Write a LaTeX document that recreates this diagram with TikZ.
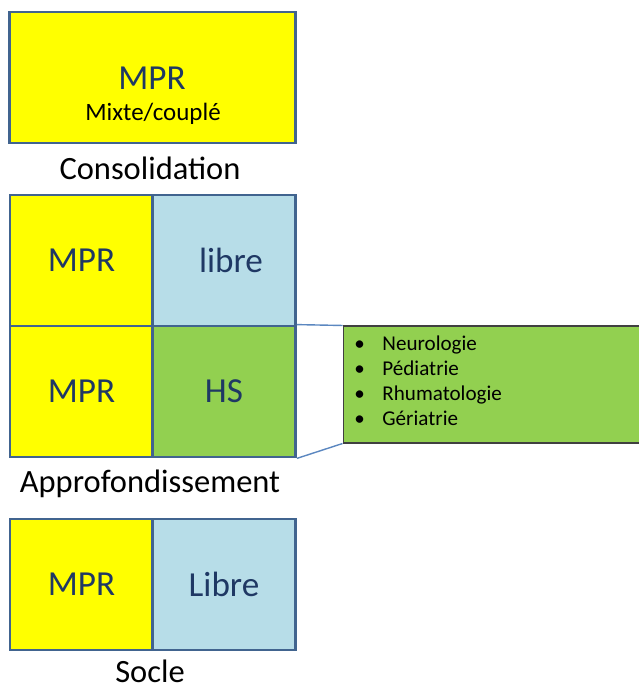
\documentclass[tikz,border=0pt]{standalone}
\usepackage{fontspec}
\setmainfont{Carlito}
\usetikzlibrary{positioning}
\definecolor{mprjaune}{HTML}{FFFF00}
\definecolor{librebleu}{HTML}{B7DDE8}
\definecolor{hsvert}{HTML}{92D050}
\definecolor{bord}{HTML}{41648F}
\definecolor{texte}{HTML}{1F3864}
\definecolor{trait}{HTML}{5B87C0}

\begin{document}
\begin{tikzpicture}[x=0.02cm,y=-0.02cm,
    cell/.style={draw=bord, line width=1.6pt, minimum width=2.86cm, minimum height=2.62cm,
      inner sep=0pt, text=texte, font=\fontsize{20}{24}\selectfont},
    titre/.style={font=\fontsize{18.5}{22}\selectfont}]
        \useasboundingbox (0,0) rectangle (638,688);
        % Consolidation
        \node[cell, fill=mprjaune, minimum width=5.71cm] (C) at (152.5,77.5) {};
        \node[text=texte, font=\fontsize{20}{24}\selectfont] (Cmpr) at (152,78) {MPR};
        \node[font=\fontsize{14.2}{17}\selectfont] (Cmix) at (153,114) {Mixte/couplé};
        \node[titre] (Ctit) at (150,168) {Consolidation};
        % Approfondissement
        \node[cell, fill=mprjaune] (A1) at (81.5,260.5) {MPR};
        \node[cell, fill=librebleu] (A2) at (224,260.5) {\hspace{8pt}libre};
        \node[cell, fill=mprjaune] (A3) at (81.5,391.5) {MPR};
        \node[cell, fill=hsvert] (A4) at (224,391.5) {HS};
        \node[titre] (Atit) at (150,484) {Approfondissement};
        % liste HS
        \node[draw=black!75, fill=hsvert, line width=0.6pt, minimum width=7.14cm,
          minimum height=2.34cm, inner sep=0pt] (liste) at (521.5,384.5) {};
        \node[anchor=north west, align=left, inner sep=0pt,
          font=\fontsize{12}{14.2}\selectfont] (items) at (354,336)
          {\textbullet\hspace{10pt}Neurologie\\
           \textbullet\hspace{10pt}Pédiatrie\\
           \textbullet\hspace{10pt}Rhumatologie\\
           \textbullet\hspace{10pt}Gériatrie};
        \draw[trait, line width=0.8pt] (A4.north east) -- (liste.north west);
        \draw[trait, line width=0.8pt] (A4.south east) -- (liste.south west);
        % Socle
        \node[cell, fill=mprjaune] (S1) at (81.5,584.5) {MPR};
        \node[cell, fill=librebleu] (S2) at (224,584.5) {Libre};
        \node[titre] (Stit) at (150,671) {Socle};
    \end{tikzpicture}
\end{document}
